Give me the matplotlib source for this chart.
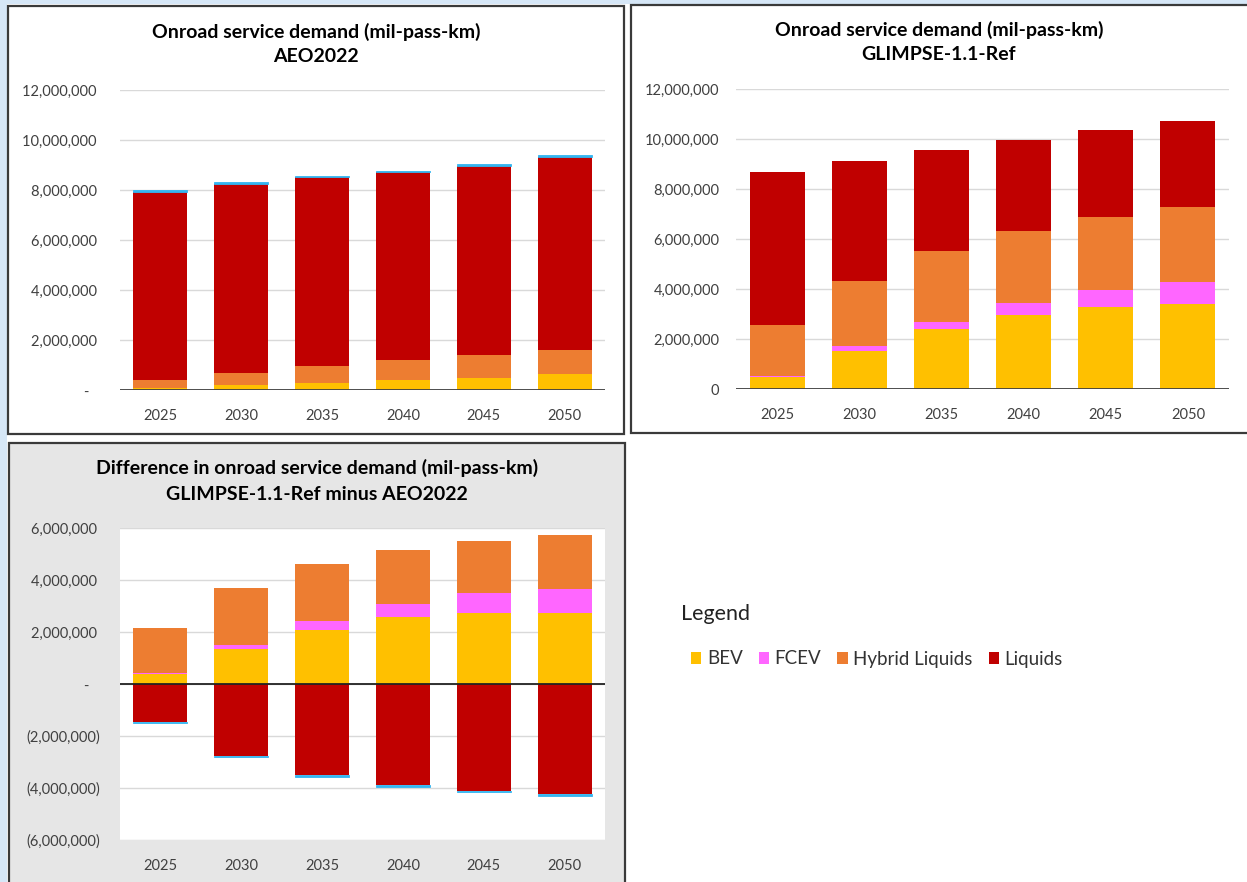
import numpy as np
import matplotlib
matplotlib.use("Agg")
import matplotlib.pyplot as plt
from matplotlib.patches import Rectangle, Patch
from matplotlib.ticker import FuncFormatter, MultipleLocator

plt.rcParams['font.family'] = ['Lato', 'DejaVu Sans']

years = ['2025', '2030', '2035', '2040', '2045', '2050']

# AEO2022 (mil-pass-km)
aeo_bev = [80000, 190000, 280000, 390000, 480000, 640000]
aeo_fcev = [0, 0, 0, 0, 0, 0]
aeo_hybrid = [310000, 500000, 670000, 830000, 930000, 970000]
aeo_liquids = [7540000, 7560000, 7560000, 7490000, 7560000, 7720000]
aeo_other = [60000, 55000, 60000, 65000, 55000, 55000]

# GLIMPSE-1.1-Ref (mil-pass-km)
gl_bev = [480000, 1505000, 2385000, 2945000, 3265000, 3410000]
gl_fcev = [40000, 200000, 310000, 505000, 705000, 865000]
gl_hybrid = [2050000, 2610000, 2825000, 2875000, 2915000, 3025000]
gl_liquids = [6110000, 4820000, 4050000, 3650000, 3490000, 3435000]
gl_other = [0, 0, 0, 0, 0, 0]

# GLIMPSE-1.1-Ref minus AEO2022
diff_bev = [373000, 1349000, 2094000, 2583000, 2724000, 2724000]
diff_fcev = [50000, 154000, 347000, 488000, 758000, 938000]
diff_hybrid = [1720000, 2172000, 2185000, 2094000, 2030000, 2056000]
diff_liquids = [-1452000, -2762000, -3508000, -3893000, -4099000, -4240000]
diff_other = [-50000, -52000, -51000, -51000, -51000, -50000]

labels = ['BEV', 'FCEV', 'Hybrid Liquids', 'Liquids']
colors = ['#FFC000', '#FF66FF', '#ED7D31', '#C00000', '#33B5F0']

W, H = 1247, 882
fig = plt.figure(figsize=(W / 100, H / 100), dpi=100)


def px_axes(left, top, right, bottom):
    return fig.add_axes([left / W, 1 - bottom / H, (right - left) / W, (bottom - top) / H])


def panel(left, top, right, bottom, face):
    fig.patches.append(Rectangle((left / W, 1 - bottom / H), (right - left) / W, (bottom - top) / H,
                                 transform=fig.transFigure, facecolor=face,
                                 edgecolor='#3A3A3A', lw=1.6, zorder=-5))


def fmt_plain(v, pos):
    if abs(v) < 1:
        return '-   '
    if v < 0:
        return '({:,.0f})'.format(-v)
    return '{:,.0f} '.format(v)


# background strips
fig.patches.append(Rectangle((0, 0), 7 / W, 1, transform=fig.transFigure,
                             facecolor='#D6E7F7', edgecolor='none', zorder=-6))
fig.patches.append(Rectangle((0, 1 - 4 / H), 1, 4 / H, transform=fig.transFigure,
                             facecolor='#D6E7F7', edgecolor='none', zorder=-6))

panel(8, 6, 624, 434, 'white')
panel(631, 5, 1260, 433, 'white')
panel(9, 443, 625, 900, '#E6E6E6')

x = np.arange(len(years))
bw = 0.67


def style(ax, ymin, ymax, fmt, pad):
    ax.set_xlim(-0.5, 5.5)
    ax.set_ylim(ymin, ymax)
    ax.yaxis.set_major_locator(MultipleLocator(2000000))
    ax.yaxis.set_major_formatter(FuncFormatter(fmt))
    ax.yaxis.grid(True, color='#D9D9D9', lw=1)
    ax.set_axisbelow(True)
    for s in ax.spines.values():
        s.set_visible(False)
    ax.tick_params(axis='both', length=0, labelsize=10.5, labelcolor='#404040')
    ax.tick_params(axis='y', pad=pad)
    ax.tick_params(axis='x', pad=14)
    ax.set_xticks(x)
    ax.set_xticklabels(years)


def stacked(ax, series):
    pos = np.zeros(len(years))
    neg = np.zeros(len(years))
    for i, (vals, c) in enumerate(zip(series, colors)):
        v = np.array(vals, dtype=float)
        base = np.where(v >= 0, pos, neg)
        # thin "other" layer gets an edge so it never vanishes
        lw = np.where(v != 0, 0.6, 0) if i == 4 else 0
        ax.bar(x, v, bw, bottom=base, color=c, edgecolor=c, lw=lw, zorder=2)
        pos = pos + np.where(v >= 0, v, 0)
        neg = neg + np.where(v < 0, v, 0)


tfs = 14

# AEO2022
ax1 = px_axes(120, 90, 605, 390)
stacked(ax1, [aeo_bev, aeo_fcev, aeo_hybrid, aeo_liquids, aeo_other])
style(ax1, 0, 12000000, fmt_plain, 14)
ax1.axhline(0, color='#404040', lw=1.3, zorder=3)
fig.text(316 / W, 1 - 32 / H, 'Onroad service demand (mil-pass-km)', ha='center', va='center',
         fontsize=tfs, fontweight='bold')
fig.text(316 / W, 1 - 57 / H, 'AEO2022', ha='center', va='center', fontsize=tfs, fontweight='bold')

# GLIMPSE
ax2 = px_axes(736, 89, 1229, 389)
stacked(ax2, [gl_bev, gl_fcev, gl_hybrid, gl_liquids, gl_other])
style(ax2, 0, 12000000, lambda v, p: '{:,.0f}'.format(v), 12)
ax2.axhline(0, color='#404040', lw=1.3, zorder=3)
fig.text(939 / W, 1 - 30 / H, 'Onroad service demand (mil-pass-km)', ha='center', va='center',
         fontsize=tfs, fontweight='bold')
fig.text(939 / W, 1 - 55 / H, 'GLIMPSE-1.1-Ref', ha='center', va='center', fontsize=tfs,
         fontweight='bold')

# difference
ax3 = px_axes(120, 528, 605, 840)
ax3.set_facecolor('white')
stacked(ax3, [diff_bev, diff_fcev, diff_hybrid, diff_liquids, diff_other])
style(ax3, -6000000, 6000000, fmt_plain, 14)
ax3.axhline(0, color='#222222', lw=1.3, zorder=3)
fig.text(317 / W, 1 - 468 / H, 'Difference in onroad service demand (mil-pass-km)', ha='center',
         va='center', fontsize=tfs, fontweight='bold')
fig.text(317 / W, 1 - 495 / H, 'GLIMPSE-1.1-Ref minus AEO2022', ha='center', va='center',
         fontsize=tfs, fontweight='bold')

# legend
fig.text(681 / W, 1 - 614 / H, 'Legend', ha='left', va='center', fontsize=15.5, color='#222222')
handles = [Patch(facecolor=c, edgecolor='none') for c in colors[:4]]
fig.legend(handles, labels, ncol=4, frameon=False, loc='center left',
           bbox_to_anchor=(674 / W, 1 - 659 / H), fontsize=13.5, handlelength=0.55,
           handleheight=0.55, handletextpad=0.3, columnspacing=0.85, labelcolor='#333333')

fig.savefig('out.png', dpi=100)
